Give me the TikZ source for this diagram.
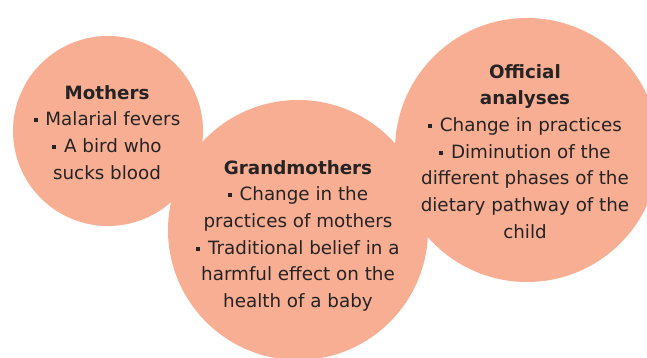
\documentclass[tikz,border=0pt]{standalone}
\usepackage{fontspec}
\setmainfont{DejaVu Sans}
\definecolor{salmon}{HTML}{F7AE92}
\definecolor{ink}{HTML}{262324}
\newcommand{\bul}{\raisebox{0.2em}{\rule{0.22em}{0.22em}}\hspace{0.42em}}
\begin{document}
\begin{tikzpicture}[x=1pt,y=-1pt,
  bubble/.style={circle,fill=salmon,draw=none,inner sep=0pt},
  txt/.style={anchor=north,inner sep=0pt,align=center,text=ink,
    font=\fontsize{18.3}{26.7}\selectfont}]
\useasboundingbox (0,0) rectangle (647,358);
\node[bubble,minimum size=190] (mothers) at (108,131) {};
\node[bubble,minimum size=260] (grand) at (298,230) {};
\node[bubble,minimum size=264] (official) at (527,150) {};
\node[txt] (tmothers) at (107,85) {\textbf{Mothers}\\ \bul Malarial fevers\\ \bul A bird who\\ sucks blood};
\node[txt] (tgrand) at (298,160) {\textbf{Grandmothers}\\ \bul Change in the\\ practices of mothers\\ \bul Traditional belief in a\\ harmful effect on the\\ health of a baby};
\node[txt] (tofficial) at (525,64) {\textbf{Official}\\ \textbf{analyses}\\ \bul Change in practices\\ \bul Diminution of the\\ different phases of the\\ dietary pathway of the\\ child};
\end{tikzpicture}
\end{document}
